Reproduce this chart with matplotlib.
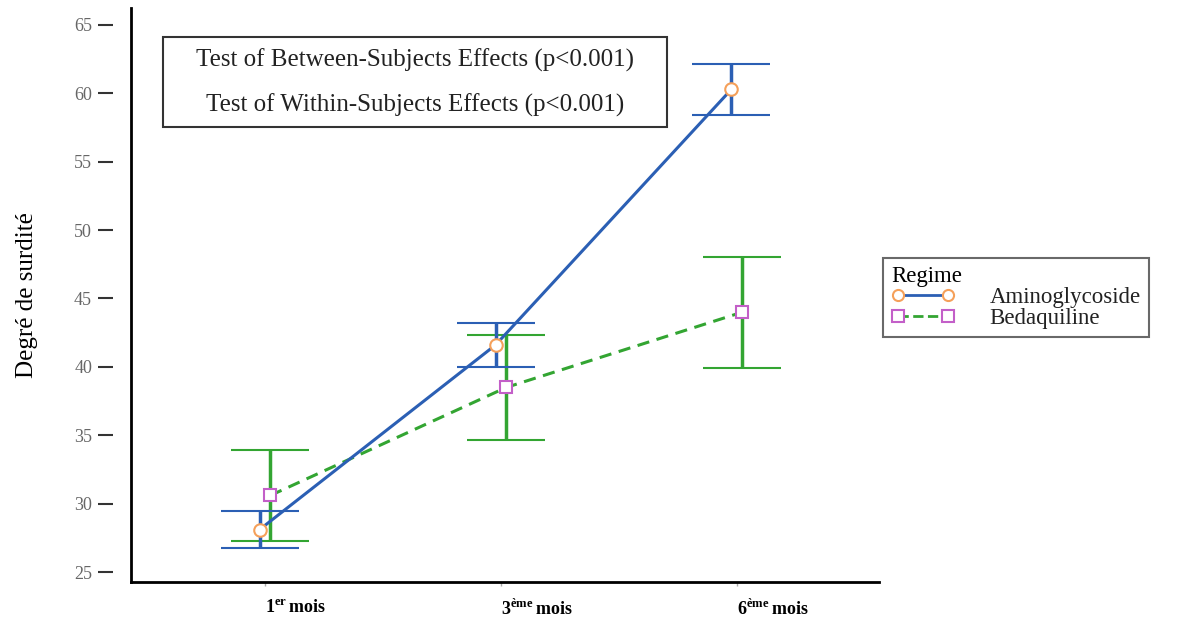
import matplotlib.pyplot as plt
from matplotlib.lines import Line2D
from matplotlib.patches import Rectangle
import numpy as np

plt.rcParams['font.family'] = ['Liberation Serif', 'DejaVu Serif']
plt.rcParams['mathtext.fontset'] = 'custom'
plt.rcParams['mathtext.rm'] = 'Liberation Serif'
plt.rcParams['mathtext.bf'] = 'Liberation Serif:bold'

# Daten
mois = [r'$\mathbf{1^{er}\,mois}$', r'$\mathbf{3^{\grave{e}me}\,mois}$', r'$\mathbf{6^{\grave{e}me}\,mois}$']
amino_moy = [28.1, 41.6, 60.3]
amino_err = [1.35, 1.6, 1.85]
beda_moy = [30.6, 38.5, 44.0]
beda_err = [3.3, 3.85, 4.05]
tests = ['Test of Between-Subjects Effects (p<0.001)',
         'Test of Within-Subjects Effects (p<0.001)']

bleu = '#2b5fb4'
vert = '#33a532'
orange = '#f5a05a'
violet = '#c35fc8'

fig = plt.figure(figsize=(11.82, 6.21), dpi=100)
ax = fig.add_axes([0.1108, 0.0628, 0.6328, 0.9243])

x = np.arange(len(mois))
dx = 0.023

ax.errorbar(x - dx, amino_moy, yerr=amino_err, color=bleu, lw=2.2, capsize=28,
            capthick=2, elinewidth=2.5, marker='o', ms=9, mfc='white',
            mec=orange, mew=1.5, zorder=3)
ax.errorbar(x + dx, beda_moy, yerr=beda_err, color=vert, lw=2.2, ls='--',
            dashes=(4, 2.5), capsize=28, capthick=2, elinewidth=2.5,
            marker='s', ms=9, mfc='white', mec=violet, mew=1.5, zorder=2)

ax.set_xlim(-0.568, 2.602)
ax.set_ylim(24.27, 66.24)
ax.set_yticks(range(25, 70, 5))
ax.set_xticks(x)
ax.set_xticklabels(mois, fontsize=13, ha='left')

# Y-Ticks losgeloest von der Achse (wie im Original)
ax.spines['left'].set_position(('outward', 13))
ax.spines['left'].set_visible(False)
ax.plot([0, 0], [0, 1], transform=ax.transAxes, color='black', lw=2, clip_on=False)

ax.tick_params(axis='y', length=11, width=1.5, colors='#333333', labelsize=13,
               labelcolor='#666666', pad=4)
ax.tick_params(axis='x', length=3, width=1, colors='#aaaaaa', labelcolor='black', pad=9)
for s in ['top', 'right']:
    ax.spines[s].set_visible(False)
ax.spines['bottom'].set_linewidth(2)
ax.set_ylabel('Degré de surdité', fontsize=18)
ax.yaxis.set_label_coords(-0.124, 0.5)

# Kasten mit den Testergebnissen
fig.patches.append(Rectangle((0.1379, 0.7955), 0.4264, 0.1449, transform=fig.transFigure,
                             fc='white', ec='#333333', lw=1.5, zorder=5))
fig.text(0.3511, 0.9034, tests[0], ha='center', va='center', fontsize=18,
         color='#222222', zorder=6)
fig.text(0.3511, 0.8309, tests[1], ha='center', va='center', fontsize=18,
         color='#222222', zorder=6)

h1 = Line2D([], [], color=bleu, lw=2, marker='o', ms=8, mfc='white', mec=orange, mew=1.5)
h2 = Line2D([], [], color=vert, lw=2, ls='--', marker='s', ms=8, mfc='white', mec=violet, mew=1.5)
leg = fig.legend([h1, h2], ['Aminoglycoside', 'Bedaquiline'], title='Regime',
                 loc='upper left', bbox_to_anchor=(0.747, 0.5845), fontsize=16.5,
                 title_fontsize=16.5, frameon=True, fancybox=False, edgecolor='#444444',
                 numpoints=2, handlelength=2.8, handletextpad=1.5, labelspacing=0.0,
                 borderpad=0.35, borderaxespad=0)
leg._legend_box.align = 'left'
leg.get_frame().set_linewidth(1.5)
for t in leg.get_texts():
    t.set_color('#222222')

fig.savefig('out.png', dpi=100)
